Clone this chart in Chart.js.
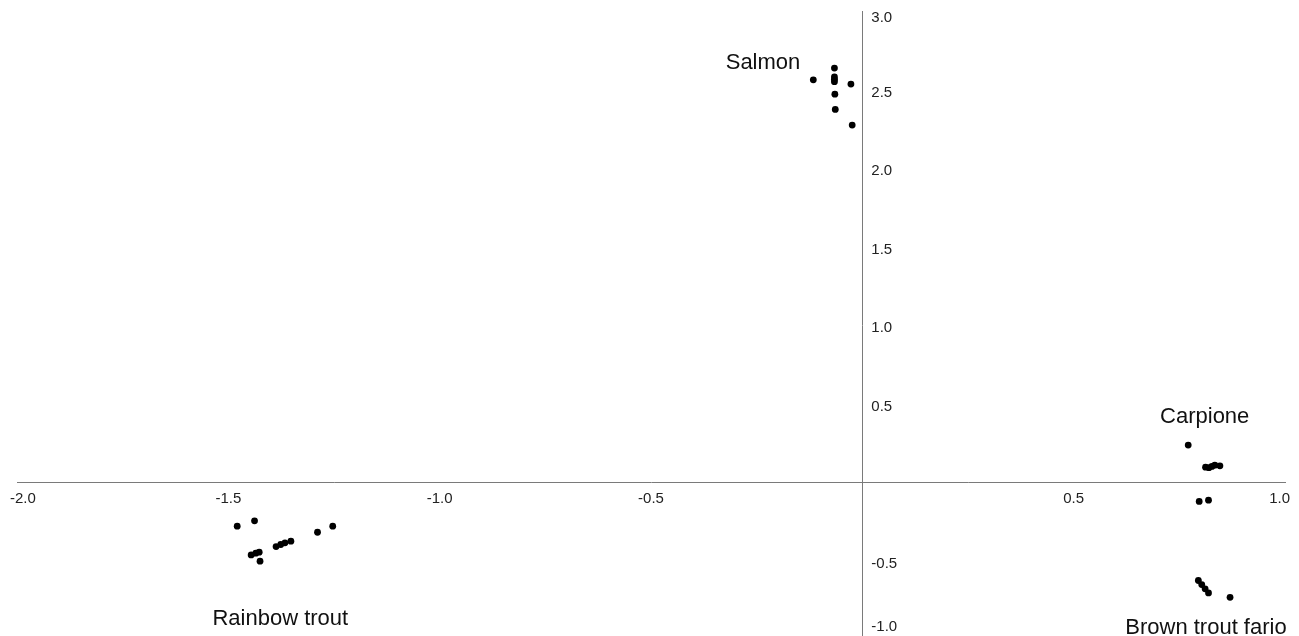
<!DOCTYPE html>
<html>
<head>
<meta charset="utf-8">
<script src="https://cdn.jsdelivr.net/npm/chart.js@4.4.1/dist/chart.umd.min.js"></script>
<style>
  html, body { margin: 0; padding: 0; background: #fff; overflow: hidden; }
  #wrap { width: 1299px; height: 636px; overflow: hidden; }
</style>
</head>
<body>
<div id="wrap"><canvas id="chart-scores" width="1299" height="643"></canvas></div>
<script>
// discriminant scores
const salmonX = [-0.116, -0.066, -0.066, -0.066, -0.066, -0.027, -0.065, -0.064, -0.024];
const salmonY = [2.562, 2.637, 2.580, 2.565, 2.550, 2.535, 2.471, 2.374, 2.274];

const carpioneX = [0.771, 0.812, 0.820, 0.827, 0.834, 0.846, 0.797, 0.819];
const carpioneY = [0.238, 0.097, 0.094, 0.102, 0.110, 0.106, -0.121, -0.113];

const brownX = [0.795, 0.803, 0.811, 0.819, 0.870];
const brownY = [-0.624, -0.650, -0.677, -0.703, -0.731];

const rainbowX = [-1.479, -1.438, -1.446, -1.435, -1.427, -1.425, -1.387, -1.376, -1.366, -1.352, -1.289, -1.253];
const rainbowY = [-0.278, -0.244, -0.461, -0.450, -0.444, -0.501, -0.408, -0.395, -0.384, -0.374, -0.317, -0.278];

// group names and where they sit, in data units
const groupNames = ['Salmon', 'Carpione', 'Rainbow trout', 'Brown trout fario'];
const groupLabelX = [-0.235, 0.81, -1.377, 0.813];
const groupLabelY = [2.67, 0.42, -0.866, -0.924];

const xTicks = [-2.0, -1.5, -1.0, -0.5, 0.5, 1.0];
const yTicks = [3.0, 2.5, 2.0, 1.5, 1.0, 0.5, -0.5, -1.0];

const FONT = '"Liberation Sans", Arial, sans-serif';

function pts(xs, ys) {
    return xs.map((x, i) => ({ x, y: ys[i] }));
}

function dotSet(label, xs, ys) {
    return {
        label,
        data: pts(xs, ys),
        pointRadius: 3.4,
        pointBackgroundColor: '#000',
        pointBorderWidth: 0,
        pointHoverRadius: 3.4,
    };
}

// tick labels sit beside the crossing axes, plus the group captions
const labelPlugin = {
    id: 'scoreLabels',
    afterDraw(chart) {
        const { ctx, scales: { x, y } } = chart;
        const x0 = x.getPixelForValue(0);
        const y0 = y.getPixelForValue(0);
        ctx.save();
        ctx.fillStyle = '#222';
        ctx.font = `15px ${FONT}`;
        ctx.textBaseline = 'middle';

        ctx.textAlign = 'center';
        for (const v of xTicks) {
            const w = ctx.measureText(v.toFixed(1)).width;
            let px = x.getPixelForValue(v);
            px = Math.max(10 + w / 2, Math.min(1290 - w / 2, px));
            ctx.fillText(v.toFixed(1), px, y0 + 16);
        }

        ctx.textAlign = 'left';
        for (const v of yTicks) {
            let py = y.getPixelForValue(v) + 3;
            py = Math.max(18, Math.min(627, py));
            ctx.fillText(v.toFixed(1), x0 + 9, py);
        }

        ctx.fillStyle = '#111';
        ctx.font = `22px ${FONT}`;
        ctx.textAlign = 'center';
        groupNames.forEach((name, i) => {
            ctx.fillText(name, x.getPixelForValue(groupLabelX[i]), y.getPixelForValue(groupLabelY[i]));
        });
        ctx.restore();
    },
};

const axisOpts = (pos, min, max) => ({
    type: 'linear',
    position: pos,
    min,
    max,
    ticks: { display: false, stepSize: 0.5 },
    grid: { display: false },
    border: { display: true, color: '#7a7a7a', width: 1 },
});

new Chart(document.getElementById('chart-scores'), {
    type: 'scatter',
    data: {
        datasets: [
            dotSet('Salmon', salmonX, salmonY),
            dotSet('Carpione', carpioneX, carpioneY),
            dotSet('Brown trout fario', brownX, brownY),
            dotSet('Rainbow trout', rainbowX, rainbowY),
        ],
    },
    options: {
        responsive: false,
        animation: false,
        layout: { padding: { left: 17, right: 14, top: 11, bottom: 1 } },
        plugins: {
            legend: { display: false },
            tooltip: { enabled: false },
        },
        scales: {
            x: axisOpts({ y: 0 }, -2.0, 1.0),
            y: axisOpts({ x: 0 }, -1.0, 3.0),
        },
    },
    plugins: [labelPlugin],
});
</script>
</body>
</html>
